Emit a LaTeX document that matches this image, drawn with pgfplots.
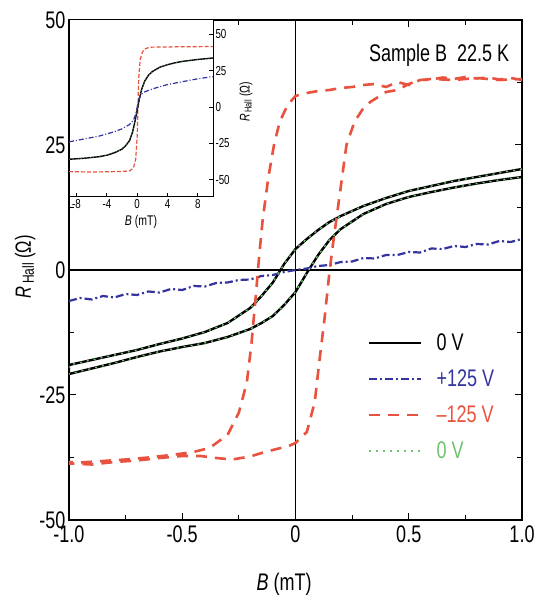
\documentclass[border=0pt]{standalone}
\usepackage{pgfplots}
\pgfplotsset{compat=1.18}
\usepackage{fontspec}
\setmainfont{Liberation Sans}[FakeStretch=0.75]
\definecolor{myred}{RGB}{232,82,62}
\definecolor{myblue}{RGB}{52,52,160}
\definecolor{mygreen}{RGB}{110,195,110}
\begin{document}
\begin{tikzpicture}
\path[use as bounding box] (-69pt,-79pt) rectangle (474pt,520pt);
\begin{axis}[name=main,
  scale only axis, width=453pt, height=500pt,
  xmin=-1, xmax=1, ymin=-50, ymax=50,
  xtick={-1,-0.5,0,0.5,1}, xticklabels={-1.0,-0.5,0,0.5,1.0},
  ytick={-50,-25,0,25,50}, yticklabels={-50,-25,0,25,50},
  minor x tick num=1, minor y tick num=1,
  major tick length=7pt, minor tick length=5pt,
  tick style={black, line width=1pt},
  axis line style={line width=1.3pt},
  ticklabel style={font=\fontsize{24}{24}\selectfont},
  xticklabel style={yshift=-2pt},
  xlabel={\textit{B} (mT)},
  ylabel={\textit{R}\raisebox{-3pt}{\fontsize{16}{16}\selectfont\,Hall} (Ω)},
  xlabel style={font=\fontsize{24}{24}\selectfont, at={(axis description cs:0.475,-0.128)}, anchor=center},
  ylabel style={font=\fontsize{22}{22}\selectfont, at={(axis description cs:-0.097,0.506)}, anchor=center},
  legend style={draw=none, fill=none, at={(0.660,0.377)}, anchor=north west,
    font=\fontsize{24}{24}\selectfont, inner sep=0pt, outer sep=0pt,
    nodes={inner sep=2pt, text height=17pt, text depth=2pt},
    row sep=13pt, column sep=12pt},
  legend cell align=left,
  legend image code/.code={\draw[#1] (0pt,0pt) -- (52pt,0pt);},
]
\draw[black, line width=1.1pt] (axis cs:-1,0) -- (axis cs:1,0);
\draw[black, line width=1.1pt] (axis cs:0,-50) -- (axis cs:0,50);
% 0 V (black)
\addplot[black, line width=2.4pt] coordinates {
(1.0,20.2) (0.9,19.4) (0.8,18.6) (0.7,17.8) (0.6,16.8) (0.5,15.8) (0.4,14.4) (0.3,12.8) (0.2,10.8) (0.15,9.6) (0.1,8.0) (0.05,6.2) (0.0,4.2) (-0.05,1.2) (-0.1,-2.5) (-0.15,-5.2) (-0.2,-7.6) (-0.3,-10.6) (-0.4,-12.4) (-0.5,-13.7) (-0.6,-14.8) (-0.7,-16.0) (-0.8,-17.0) (-0.9,-18.0) (-1.0,-19.0)
(-1.0,-20.8) (-0.9,-19.7) (-0.8,-18.6) (-0.7,-17.4) (-0.6,-16.3) (-0.5,-15.4) (-0.4,-14.6) (-0.3,-13.4) (-0.2,-11.8) (-0.15,-10.6) (-0.1,-9.2) (-0.05,-7.0) (0.0,-4.4) (0.05,-0.6) (0.1,3.0) (0.15,6.0) (0.2,8.2) (0.3,11.2) (0.4,13.2) (0.5,14.6) (0.6,15.6) (0.7,16.5) (0.8,17.3) (0.9,18.0) (1.0,18.6)
};
\addlegendentry{0 V}
% +125 V (blue)
\addplot[myblue, line width=2.2pt, dash pattern=on 8pt off 3pt on 2pt off 3pt] coordinates {
(-1,-6.2) (-0.95,-5.6) (-0.9,-5.9) (-0.85,-5.2) (-0.8,-5.5) (-0.75,-4.8) (-0.7,-5.0) (-0.65,-4.3) (-0.6,-4.5) (-0.55,-3.8) (-0.5,-4.0) (-0.45,-3.2) (-0.4,-3.3) (-0.35,-2.6) (-0.3,-2.5) (-0.25,-2.0) (-0.2,-1.9) (-0.15,-1.2) (-0.1,-1.0) (-0.05,-0.4) (0,0) (0.05,0.3) (0.1,0.8) (0.15,1.0) (0.2,1.6) (0.25,1.7) (0.3,2.4) (0.35,2.3) (0.4,3.0) (0.45,3.0) (0.5,3.6) (0.55,3.5) (0.6,4.3) (0.65,4.2) (0.7,4.8) (0.75,4.6) (0.8,5.2) (0.85,5.1) (0.9,5.8) (0.95,5.6) (1.0,6.2)
};
\addlegendentry{\textcolor{myblue}{+125 V}}
% -125 V (red)
\addplot[myred, line width=2.6pt, dash pattern=on 11pt off 8pt] coordinates {
(1.0,38.0) (0.95,38.4) (0.9,38.1) (0.85,38.5) (0.8,38.3) (0.75,38.6) (0.7,38.2) (0.65,38.5) (0.6,38.1) (0.55,38.0) (0.5,37.0) (0.45,37.6) (0.4,36.6) (0.35,37.2) (0.3,37.0) (0.25,36.6) (0.2,36.4) (0.15,36.0) (0.1,35.8) (0.05,35.4) (0.0,34.8) (-0.035,33.0) (-0.07,29.6) (-0.095,25) (-0.12,18.5) (-0.145,10) (-0.16,3) (-0.175,-5) (-0.195,-15) (-0.215,-22.5) (-0.25,-28.5) (-0.3,-33) (-0.38,-35.6) (-0.45,-36.4) (-0.55,-37.0) (-0.65,-37.5) (-0.75,-37.9) (-0.85,-38.2) (-0.95,-38.5) (-1.0,-38.4)
(-1.0,-38.7) (-0.9,-38.9) (-0.8,-38.4) (-0.7,-38.1) (-0.6,-37.6) (-0.5,-37.2) (-0.42,-37.2) (-0.35,-37.6) (-0.28,-37.9) (-0.2,-37.3) (-0.15,-36.6) (-0.1,-36.0) (-0.03,-35.2) (0.0,-34.6) (0.05,-32.4) (0.085,-26.4) (0.105,-18.4) (0.128,-9.8) (0.15,-0.4) (0.165,5) (0.195,15) (0.225,25) (0.26,29.6) (0.3,32.4) (0.33,33.6) (0.4,35.6) (0.45,36.0) (0.5,37.2) (0.55,38.0) (0.6,38.2) (0.7,38.0) (0.8,38.4) (0.9,38.0) (1.0,38.2)
};
\addlegendentry{\textcolor{myred}{–125 V}}
% 0 V (green dotted)
\addplot[mygreen, line width=1.3pt, dash pattern=on 2pt off 5pt] coordinates {
(1.0,20.2) (0.9,19.4) (0.8,18.6) (0.7,17.8) (0.6,16.8) (0.5,15.8) (0.4,14.4) (0.3,12.8) (0.2,10.8) (0.15,9.6) (0.1,8.0) (0.05,6.2) (0.0,4.2) (-0.05,1.2) (-0.1,-2.5) (-0.15,-5.2) (-0.2,-7.6) (-0.3,-10.6) (-0.4,-12.4) (-0.5,-13.7) (-0.6,-14.8) (-0.7,-16.0) (-0.8,-17.0) (-0.9,-18.0) (-1.0,-19.0)
(-1.0,-20.8) (-0.9,-19.7) (-0.8,-18.6) (-0.7,-17.4) (-0.6,-16.3) (-0.5,-15.4) (-0.4,-14.6) (-0.3,-13.4) (-0.2,-11.8) (-0.15,-10.6) (-0.1,-9.2) (-0.05,-7.0) (0.0,-4.4) (0.05,-0.6) (0.1,3.0) (0.15,6.0) (0.2,8.2) (0.3,11.2) (0.4,13.2) (0.5,14.6) (0.6,15.6) (0.7,16.5) (0.8,17.3) (0.9,18.0) (1.0,18.6)
};
\addlegendentry{\textcolor{mygreen}{0 V}}
\node[anchor=base, font=\fontsize{24}{24}\selectfont] at (rel axis cs:0.817,0.916) {Sample B\ \ 22.5 K};
\end{axis}
\begin{axis}[at={(main.north west)}, anchor=north west,
  scale only axis, width=144pt, height=177pt,
  axis background/.style={fill=white},
  xmin=-9, xmax=10, ymin=-62, ymax=60,
  xtick={-8,-4,0,4,8}, xticklabels={-8,-4,0,4,8},
  ytick={-50,-25,0,25,50}, yticklabels={-50,-25,0,25,50},
  xtick pos=bottom, ytick pos=right, yticklabel pos=right,
  major tick length=4pt,
  tick style={black, line width=0.8pt},
  axis line style={line width=1pt},
  ticklabel style={font=\fontsize{13}{13}\selectfont},
  xticklabel style={yshift=1pt},
  yticklabel style={xshift=-1pt},
  xlabel={\textit{B} (mT)},
  ylabel={\textit{R}\raisebox{-2pt}{\fontsize{10}{10}\selectfont\,Hall} (Ω)},
  xlabel style={font=\fontsize{14}{14}\selectfont, at={(axis description cs:0.5,-0.141)}, anchor=center},
  ylabel style={font=\fontsize{14}{14}\selectfont, at={(axis description cs:1.229,0.537)}, anchor=center},
]
\addplot[myred, line width=1.2pt, dash pattern=on 4pt off 2pt] coordinates {
(-9,-44.5) (-6,-44.8) (-4,-44.6) (-2,-44.4) (-1,-44) (-0.5,-42) (-0.2,-36) (0,-20) (0.1,0) (0.2,20) (0.4,33) (0.7,38) (1,40) (1.5,41) (2,41.3) (4,41.4) (6,41.6) (8,41.6) (10,41.8)
};
\addplot[black, line width=1.4pt] coordinates {
(-9,-36) (-7,-35.3) (-5,-34.2) (-4,-33.2) (-3,-31.5) (-2,-29) (-1.5,-26.5) (-1,-23) (-0.6,-17) (-0.3,-10) (0,-2) (0.3,6) (0.6,12.5) (1,18) (1.5,22) (2,24.5) (3,27.5) (4,29.2) (5,30.5) (6,31.5) (8,32.8) (10,33.8)
};
\addplot[mygreen!70!black, line width=0.6pt, dash pattern=on 1pt off 2pt] coordinates {
(-9,-36) (-7,-35.3) (-5,-34.2) (-4,-33.2) (-3,-31.5) (-2,-29) (-1.5,-26.5) (-1,-23) (-0.6,-17) (-0.3,-10) (0,-2) (0.3,6) (0.6,12.5) (1,18) (1.5,22) (2,24.5) (3,27.5) (4,29.2) (5,30.5) (6,31.5) (8,32.8) (10,33.8)
};
\addplot[myblue, line width=1.2pt, dash pattern=on 5pt off 2pt on 1pt off 2pt] coordinates {
(-9,-24) (-7,-22) (-5,-20) (-4,-18.5) (-3,-17) (-2,-15) (-1,-12) (-0.5,-9) (-0.2,-5) (0,0) (0.2,5) (0.5,8.5) (1,10.5) (2,12.5) (3,14) (4,15.5) (5,16.5) (6,17.5) (8,19.5) (10,21)
};
\end{axis}
\end{tikzpicture}
\end{document}
